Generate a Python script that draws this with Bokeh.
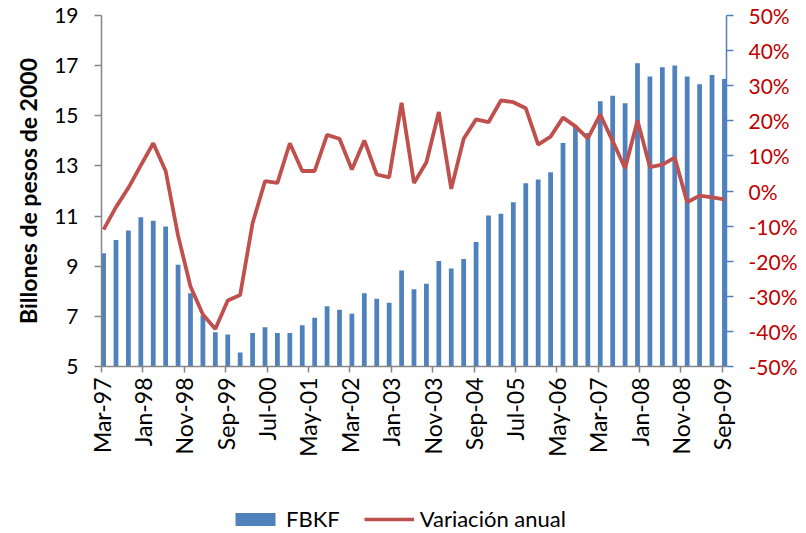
import math
import pandas as pd
from bokeh.plotting import figure
from bokeh.layouts import column
from bokeh.models import (Range1d, LinearAxis, FixedTicker, Legend, LegendItem,
                          Title, ColumnDataSource)
from bokeh.embed import file_html
from bokeh.resources import INLINE

# ---------------- data ----------------
quarters = pd.period_range("1997Q1", periods=51, freq="Q")  # Mar-97 ... Sep-09

fbkf = [9.52, 10.05, 10.42, 10.95, 10.81, 10.58, 9.06, 7.92, 7.03, 6.37,
        6.28, 5.56, 6.34, 6.57, 6.34, 6.34, 6.65, 6.94, 7.40, 7.26,
        7.10, 7.92, 7.70, 7.54, 8.83, 8.08, 8.30, 9.21, 8.91, 9.29,
        9.97, 11.02, 11.09, 11.55, 12.31, 12.46, 12.75, 13.91, 14.61, 14.31,
        15.58, 15.80, 15.50, 17.10, 16.57, 16.94, 17.01, 16.57, 16.26, 16.63,
        16.47]

variacion = [-11.0, -4.6, 0.9, 7.3, 13.6, 5.7, -12.7, -27.2, -35.2, -39.3,
             -31.2, -29.6, -9.2, 2.8, 2.3, 13.6, 5.7, 5.7, 16.0, 14.9,
             6.1, 14.4, 4.7, 3.9, 25.1, 2.3, 8.2, 22.5, 0.6, 14.9,
             20.4, 19.6, 25.8, 25.3, 23.6, 13.2, 15.5, 20.9, 18.4, 15.0,
             21.8, 14.2, 6.5, 20.1, 6.8, 7.5, 9.5, -3.2, -1.3, -1.8,
             -2.4]

x_tick_labels = ["Mar-97", "Jan-98", "Nov-98", "Sep-99", "Jul-00", "May-01",
                 "Mar-02", "Jan-03", "Nov-03", "Sep-04", "Jul-05", "May-06",
                 "Mar-07", "Jan-08", "Nov-08", "Sep-09"]
left_ticks = [5, 7, 9, 11, 13, 15, 17, 19]
right_ticks = [-50, -40, -30, -20, -10, 0, 10, 20, 30, 40, 50]
series_names = ["FBKF", "Variación anual"]

# months since Mar-97 (date axis with monthly base unit)
months = [(q.year - 1997) * 12 + q.month - 3 for q in quarters]
xpos = [m + 0.5 for m in months]
x_tick_pos = [10 * i for i in range(len(x_tick_labels))]

src = ColumnDataSource(dict(x=xpos, fbkf=fbkf, var=variacion))

FONT = "Lato"
FS = "21px"
BAR_COLOR = "#4F81BD"
LINE_COLOR = "#C0504D"

p = figure(width=800, height=490, output_backend="svg",
           toolbar_location=None,
           x_range=Range1d(0, 151), y_range=Range1d(5, 19),
           min_border_left=101, min_border_right=73, min_border_top=15,
           min_border_bottom=124)
p.grid.visible = False
p.outline_line_color = None
p.background_fill_color = "white"
p.border_fill_color = "white"

bars = p.vbar(x="x", top="fbkf", bottom=0, width=1.15, source=src,
              fill_color=BAR_COLOR, line_color=None)

p.extra_y_ranges = {"pct": Range1d(-50, 50)}
line = p.line(x="x", y="var", source=src, y_range_name="pct",
              line_color=LINE_COLOR, line_width=3.8)

# left axis
la = p.left[0]
la.ticker = FixedTicker(ticks=left_ticks)
la.axis_line_color = "#868686"
la.axis_line_width = 1.5
la.major_tick_line_color = "#868686"
la.major_tick_line_width = 1.5
la.major_tick_out = 7
la.major_tick_in = 0
la.minor_tick_line_color = None
la.major_label_standoff = 16
la.major_label_text_font = FONT
la.major_label_text_font_size = FS
la.major_label_text_color = "#000000"

# bottom axis
ba = p.below[0]
ba.ticker = FixedTicker(ticks=x_tick_pos)
ba.major_label_overrides = {t: l for t, l in zip(x_tick_pos, x_tick_labels)}
ba.major_label_orientation = math.pi / 2
ba.axis_line_color = "#868686"
ba.axis_line_width = 1.5
ba.major_tick_line_color = "#868686"
ba.major_tick_line_width = 1.5
ba.major_tick_out = 6
ba.major_tick_in = 0
ba.minor_tick_line_color = None
ba.major_label_standoff = 5
ba.major_label_text_font = FONT
ba.major_label_text_font_size = "23px"
ba.major_label_text_color = "#000000"

# right axis
ra = LinearAxis(y_range_name="pct", ticker=FixedTicker(ticks=right_ticks))
ra.major_label_overrides = {t: f"{t}%" for t in right_ticks}
ra.axis_line_color = "#4F81BD"
ra.axis_line_width = 1.5
ra.major_tick_line_color = "#4F81BD"
ra.major_tick_line_width = 1.5
ra.major_tick_out = 7
ra.major_tick_in = 0
ra.minor_tick_line_color = None
ra.major_label_standoff = 15
ra.major_label_text_font = FONT
ra.major_label_text_font_size = FS
ra.major_label_text_color = "#C00000"
p.add_layout(ra, "right")

# y axis title
ytitle = Title(text="Billones de pesos de 2000", align="center", offset=39,
               standoff=20, text_font=FONT, text_font_style="bold",
               text_font_size="23px", text_color="#000000")
p.add_layout(ytitle, "left")

# ---------------- legend strip (separate figure below the chart) ----------
# the legend's renderers use the same data, but the strip's y-range lies
# above all values so that only the legend swatches are seen
lg = figure(width=800, height=43, output_backend="svg", toolbar_location=None,
            x_range=Range1d(0, 151), y_range=Range1d(1000, 1001),
            x_axis_type=None, y_axis_type=None, min_border=0)
lg.grid.visible = False
lg.outline_line_color = None
lg.background_fill_color = "white"
lg.border_fill_color = "white"
lbar = lg.vbar(x="x", top="fbkf", bottom=0, width=1.15, source=src,
               fill_color=BAR_COLOR, line_color=None)
lline = lg.line(x="x", y="var", source=src, line_color=LINE_COLOR,
                line_width=3.5)

legend = Legend(items=[LegendItem(label=series_names[0], renderers=[lbar]),
                       LegendItem(label=series_names[1], renderers=[lline])],
                orientation="horizontal", location=(129, 1),
                glyph_width=50, glyph_height=16, label_height=16,
                label_standoff=6, spacing=24,
                padding=0, margin=0, border_line_color=None,
                background_fill_alpha=0,
                label_text_font=FONT, label_text_font_size="22px",
                label_text_color="#000000")
lg.add_layout(legend)

layout = column(p, lg, spacing=0)
open("out.html", "w").write(file_html(layout, INLINE))
